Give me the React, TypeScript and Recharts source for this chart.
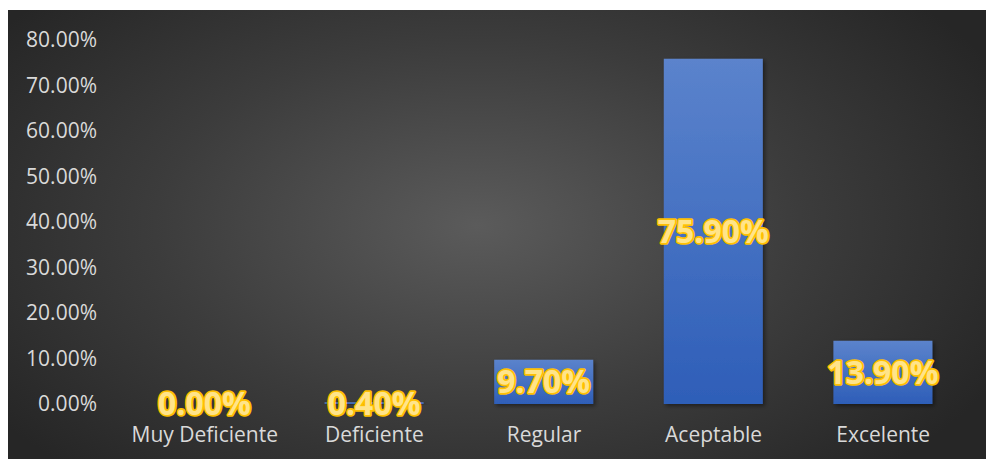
import React from 'react';
import { Bar, BarChart, LabelList, Rectangle, XAxis, YAxis } from 'recharts';

const categories = ['Muy Deficiente', 'Deficiente', 'Regular', 'Aceptable', 'Excelente'];
const percentages = [0.0, 0.4, 9.7, 75.9, 13.9];
const yTicks = [0, 10, 20, 30, 40, 50, 60, 70, 80];

const data = categories.map((name, i) => ({ name, value: percentages[i] }));

const FONT = '"Open Sans", sans-serif';

const renderLabel = (props: any) => {
  const { x, y, width, height, value } = props;
  const cx = Number(x) + Number(width) / 2;
  const cy = Number(y) + Number(height) / 2;
  return (
    <text
      x={cx}
      y={cy}
      dy="0.36em"
      textAnchor="middle"
      fontFamily={FONT}
      fontWeight={700}
      fontSize={32}
      fill="#ffe48a"
      stroke="#ffc000"
      strokeWidth={3.5}
      paintOrder="stroke"
      strokeLinejoin="round"
    >
      {Number(value).toFixed(2)}%
    </text>
  );
};

// zero bars get a 1px placeholder so their label still renders, but nothing is drawn
const renderBar = (props: any) => (props.value === 0 ? <g /> : <Rectangle {...props} />);

export default function App() {
  return (
    <div>
      <style>{'body{margin:0;overflow:hidden}'}</style>
      <div
        style={{
          margin: '10px 0 0 8px',
          width: 978,
          height: 449,
          background: 'radial-gradient(ellipse 60% 75% at 48% 48%, #5b5b5b 0%, #3c3c3c 55%, #262626 100%)',
        }}
      >
        <BarChart width={979} height={449} data={data} margin={{ top: 30, right: 19, bottom: 0, left: 0 }}>
          <defs>
            <linearGradient id="barFill" x1="0" y1="0" x2="0" y2="1">
              <stop offset="0%" stopColor="#5b83cc" />
              <stop offset="100%" stopColor="#2e5eb8" />
            </linearGradient>
            <filter id="barShadow" x="-20%" y="-20%" width="140%" height="140%">
              <feDropShadow dx="2" dy="2" stdDeviation="2" floodColor="#000" floodOpacity="0.45" />
            </filter>
          </defs>
          <XAxis
            dataKey="name"
            height={55}
            axisLine={false}
            tickLine={false}
            tickMargin={17}
            interval={0}
            tick={{ fontSize: 21, fill: '#d9d9d9', fontFamily: FONT }}
          />
          <YAxis
            width={112}
            domain={[0, 80]}
            ticks={yTicks}
            axisLine={false}
            tickLine={false}
            tickMargin={17}
            tickFormatter={(v: number) => `${v.toFixed(2)}%`}
            tick={{ fontSize: 21, fill: '#d9d9d9', fontFamily: FONT }}
          />
          <Bar
            dataKey="value"
            barSize={99}
            minPointSize={1}
            shape={renderBar}
            fill="url(#barFill)"
            filter="url(#barShadow)"
            isAnimationActive={false}
          >
            <LabelList dataKey="value" content={renderLabel} />
          </Bar>
        </BarChart>
      </div>
    </div>
  );
}
